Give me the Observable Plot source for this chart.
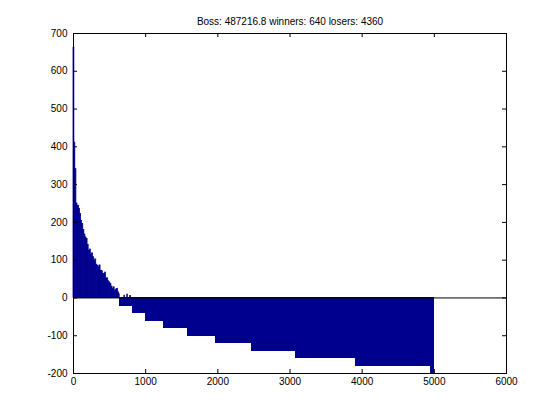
<!DOCTYPE html>
<html>
<head>
<meta charset="utf-8">
<script src="https://cdn.jsdelivr.net/npm/d3@7"></script>
<script src="https://cdn.jsdelivr.net/npm/@observablehq/plot@0.6"></script>
<style>
  html, body { margin: 0; padding: 0; background: #fff; }
</style>
</head>
<body>
<div id="chart"></div>
<script>
const titleText = "Boss: 487216.8 winners: 640 losers: 4360";

// Winners (sorted descending), grouped into index ranges
const winnerEdges = [0, 12, 25, 40, 55, 75, 90, 105, 120, 135, 150, 165, 180, 195, 210, 225, 240, 255, 270, 285, 300, 315, 330, 345, 360, 375, 390, 405, 420, 435, 450, 465, 480, 495, 510, 525, 540, 555, 570, 585, 600, 615, 630, 640];
const winnerValues = [662, 411, 341, 250, 244, 236, 222, 204, 196, 180, 168, 160, 156, 140, 124, 128, 115, 118, 108, 97, 102, 88, 85, 81, 86, 72, 71, 64, 63, 67, 50, 52, 44, 41, 37, 30, 24, 28, 19, 22, 24, 15, 10];

// Losers: stepped values
const loserEdges = [640, 820, 1010, 1260, 1580, 1970, 2470, 3090, 3910, 4960, 5000];
const loserValues = [-20, -40, -60, -80, -100, -120, -140, -160, -180, -200];

// Small positive spikes among the first losers
const spikeStart = [705, 745, 785];
const spikeEnd = [713, 753, 795];
const spikeValues = [6, 9, 5];

const xTicks = [0, 1000, 2000, 3000, 4000, 5000, 6000];
const yTicks = [-200, -100, 0, 100, 200, 300, 400, 500, 600, 700];

const winBars = [];
winnerValues.forEach((v, i) => winBars.push({x1: winnerEdges[i], x2: winnerEdges[i + 1], y: v}));
spikeValues.forEach((v, i) => winBars.push({x1: spikeStart[i], x2: spikeEnd[i], y: v}));
const loseBars = [];
loserValues.forEach((v, i) => loseBars.push({x1: loserEdges[i], x2: loserEdges[i + 1], y: v}));

const W = 560, H = 419;
const mL = 73, mR = 54, mT = 33, mB = 46;
const plotW = W - mL - mR, plotH = H - mT - mB;
const tick = 4;
const barColor = "#00008f";

const chart = Plot.plot({
  width: W,
  height: H,
  marginLeft: mL,
  marginRight: mR,
  marginTop: mT,
  marginBottom: mB,
  style: {fontFamily: "'Liberation Sans', Arial, Helvetica, sans-serif", fontSize: "10px", background: "#fff", color: "#000"},
  x: {domain: [0, 6000]},
  y: {domain: [-200, 700]},
  marks: [
    Plot.rect(winBars, {x1: "x1", x2: "x2", y1: 0, y2: "y", fill: barColor, stroke: barColor, strokeWidth: 0.8}),
    Plot.rect(loseBars, {x1: "x1", x2: "x2", y1: 0, y2: "y", fill: barColor, stroke: barColor, strokeWidth: 1, shapeRendering: "crispEdges"}),
    Plot.ruleY([0], {stroke: "#000", strokeWidth: 1}),
    Plot.frame({stroke: "#000", strokeWidth: 1}),
    // inward ticks
    Plot.ruleX(xTicks, {insetTop: plotH - tick, stroke: "#000"}),
    Plot.ruleX(xTicks, {insetBottom: plotH - tick, stroke: "#000"}),
    Plot.ruleY(yTicks, {insetRight: plotW - tick, stroke: "#000"}),
    Plot.ruleY(yTicks, {insetLeft: plotW - tick, stroke: "#000"}),
    Plot.axisX(xTicks, {tickSize: 0, tickPadding: 4, tickFormat: d => String(d), label: null, fontSize: 10}),
    Plot.axisY(yTicks, {tickSize: 0, tickPadding: 6, tickFormat: d => String(d), label: null, fontSize: 10}),
    Plot.text([titleText], {frameAnchor: "top", dy: -16, fontSize: 10, fill: "#000"})
  ]
});
document.getElementById("chart").appendChild(chart);
</script>
</body>
</html>
